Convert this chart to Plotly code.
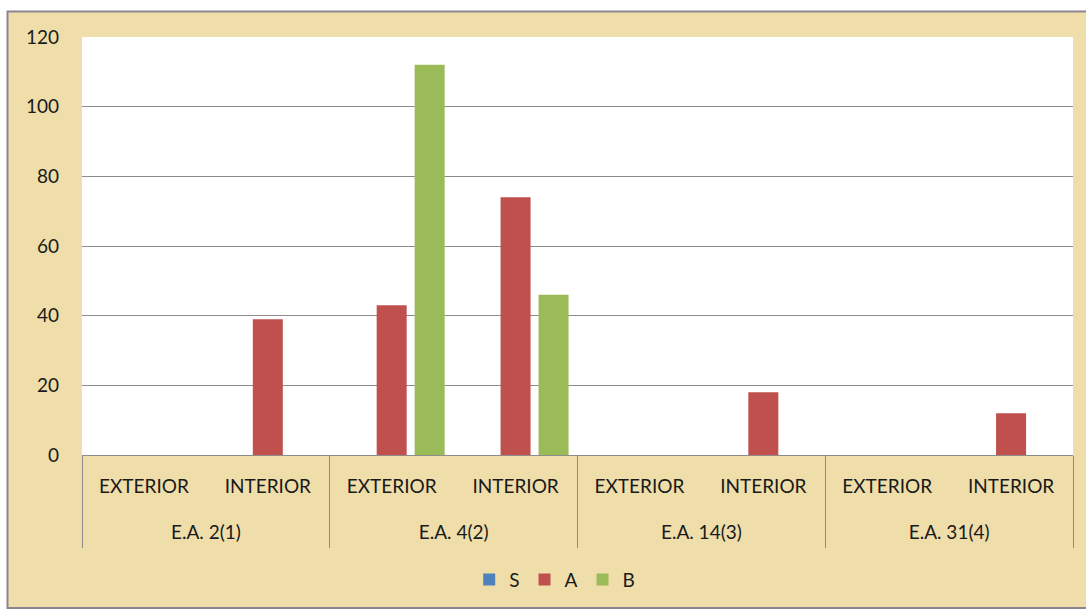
import plotly.graph_objects as go

groups = ["E.A. 2(1)", "E.A. 4(2)", "E.A. 14(3)", "E.A. 31(4)"]
sides = ["EXTERIOR", "INTERIOR"]

s_values = [0, 0, 0, 0, 0, 0, 0, 0]
a_values = [0, 39, 43, 74, 0, 18, 0, 12]
b_values = [0, 0, 112, 46, 0, 0, 0, 0]

y_ticks = [0, 20, 40, 60, 80, 100, 120]

# one slot per (group, side) pair, in drawing order
slot_labels = [s for _ in groups for s in sides]
slots = list(range(len(slot_labels)))
n_side = len(sides)
group_centers = [i * n_side + (n_side - 1) / 2 for i in range(len(groups))]
group_edges = [i * n_side - 0.5 for i in range(len(groups) + 1)]

series = [
    ("S", s_values, "#4F81BD"),
    ("A", a_values, "#C0504D"),
    ("B", b_values, "#9BBB59"),
]

fig = go.Figure()
for name, vals, color in series:
    fig.add_trace(go.Bar(
        name=name,
        x=slots,
        y=vals,
        marker=dict(color=color, line=dict(width=0)),
    ))

W, H = 1086, 610
L, R, T, B = 82, 13, 37, 155
pw, ph = W - L - R, H - T - B


def px_x(x):
    return (x - L) / pw


def px_y(y):
    return (H - B - y) / ph


# papyrus-coloured chart frame
fig.add_shape(type="rect", xref="paper", yref="paper",
              x0=px_x(7.5), x1=px_x(1095), y0=px_y(608), y1=px_y(11.5),
              fillcolor="#EFDEAA", line=dict(color="#8A8590", width=2),
              layer="below")
# white plotting area on top of the frame
fig.add_shape(type="rect", xref="paper", yref="paper",
              x0=0, x1=1, y0=0, y1=1,
              fillcolor="white", line=dict(width=0), layer="below")

font = dict(family="Lato, Carlito, sans-serif", size=19, color="#1a1a1a")
x_range = [-0.5, len(slots) - 0.5]
grey = "#8c8c8c"

fig.update_layout(
    width=W, height=H,
    margin=dict(l=L, r=R, t=T, b=B, autoexpand=False),
    paper_bgcolor="white",
    plot_bgcolor="white",
    font=font,
    barmode="group",
    bargap=0.08,
    bargroupgap=0.21,
    showlegend=True,
    legend=dict(orientation="h", x=0.477, xanchor="center", y=-0.253,
                yanchor="top", font=dict(size=19),
                bgcolor="rgba(0,0,0,0)", itemwidth=30),
    # side labels under each slot
    xaxis=dict(
        range=x_range, tickvals=slots, ticktext=slot_labels,
        showline=True, linecolor=grey, linewidth=1,
        ticks="", tickfont=font, ticklabelstandoff=14,
        showgrid=False, zeroline=False, automargin=False,
    ),
    # dividers between groups, drawn as long outside ticks
    xaxis2=dict(
        overlaying="x", anchor="y", side="bottom", range=x_range,
        tickvals=group_edges, ticktext=[""] * len(group_edges),
        ticks="outside", ticklen=92, tickwidth=1, tickcolor=grey,
        showline=False, showgrid=False, zeroline=False, automargin=False,
    ),
    # group names on the lower row
    xaxis3=dict(
        overlaying="x", anchor="y", side="bottom", range=x_range,
        tickvals=group_centers, ticktext=groups,
        ticks="", tickfont=font, ticklabelstandoff=64,
        showline=False, showgrid=False, zeroline=False, automargin=False,
    ),
    yaxis=dict(
        range=[0, 120], tickvals=y_ticks,
        showgrid=True, gridcolor=grey, gridwidth=1,
        zeroline=False, showline=False, ticks="",
        tickfont=font, ticklabelstandoff=22, automargin=False,
    ),
)

# empty companions so the extra axes are drawn
fig.add_trace(go.Scatter(x=[], y=[], xaxis="x2", showlegend=False,
                         hoverinfo="skip"))
fig.add_trace(go.Scatter(x=[], y=[], xaxis="x3", showlegend=False,
                         hoverinfo="skip"))

fig.write_html("out.html")
